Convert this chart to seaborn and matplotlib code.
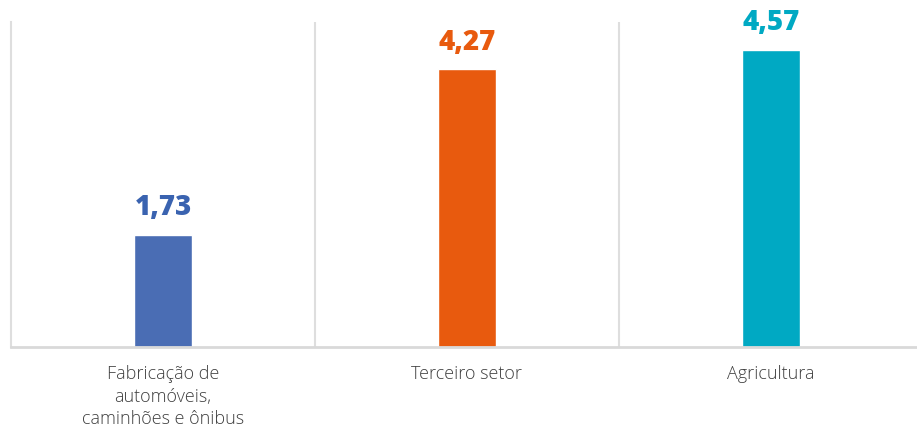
import matplotlib
matplotlib.use("Agg")
import matplotlib.pyplot as plt
import seaborn as sns
import pandas as pd

categories = ["Fabricação de\nautomóveis,\ncaminhões e ônibus", "Terceiro setor", "Agricultura"]
values = [1.73, 4.27, 4.57]
labels = ["1,73", "4,27", "4,57"]
bar_colors = ["#4a6db4", "#e85a0e", "#00a9c3"]
label_colors = ["#3a63b0", "#e85a0e", "#00a9c3"]

sns.set_theme(style="white")
plt.rcParams["font.family"] = ["Open Sans", "DejaVu Sans"]

W, H = 917, 429
fig = plt.figure(figsize=(W / 100, H / 100), dpi=100)
left = 11 / W
right = 923 / W
bottom = 1 - 347 / H
top = 1 - 22 / H
ax = fig.add_axes([left, bottom, right - left, top - bottom])

df = pd.DataFrame({"cat": categories, "val": values})
sns.barplot(data=df, x="cat", y="val", hue="cat", palette=bar_colors,
            width=0.19, legend=False, ax=ax, saturation=1)

ax.set_xlim(-0.5, 2.5)
ax.set_ylim(0, 5)
ax.set_xlabel("")
ax.set_ylabel("")
ax.set_yticks([])
for s in ["top", "right"]:
    ax.spines[s].set_visible(False)
ax.spines["left"].set_color("#dedede")
ax.spines["left"].set_linewidth(1.5)
ax.spines["bottom"].set_color("#d9d9d9")
ax.spines["bottom"].set_linewidth(2)

for xb in [0.5, 1.5]:
    ax.axvline(xb, color="#dedede", linewidth=1.5, zorder=0)

ax.tick_params(axis="x", length=0, pad=13, labelsize=13, labelcolor="#404040")
for t in ax.get_xticklabels():
    t.set_linespacing(1.32)
    t.set_verticalalignment("top")
    t.set_fontweight("light")

for i, (v, lab, c) in enumerate(zip(values, labels, label_colors)):
    ax.annotate(lab, (i, v), xytext=(0, 9), textcoords="offset points",
                ha="center", va="bottom", fontsize=20, fontweight="heavy", color=c)

fig.savefig("out.png", dpi=100)
